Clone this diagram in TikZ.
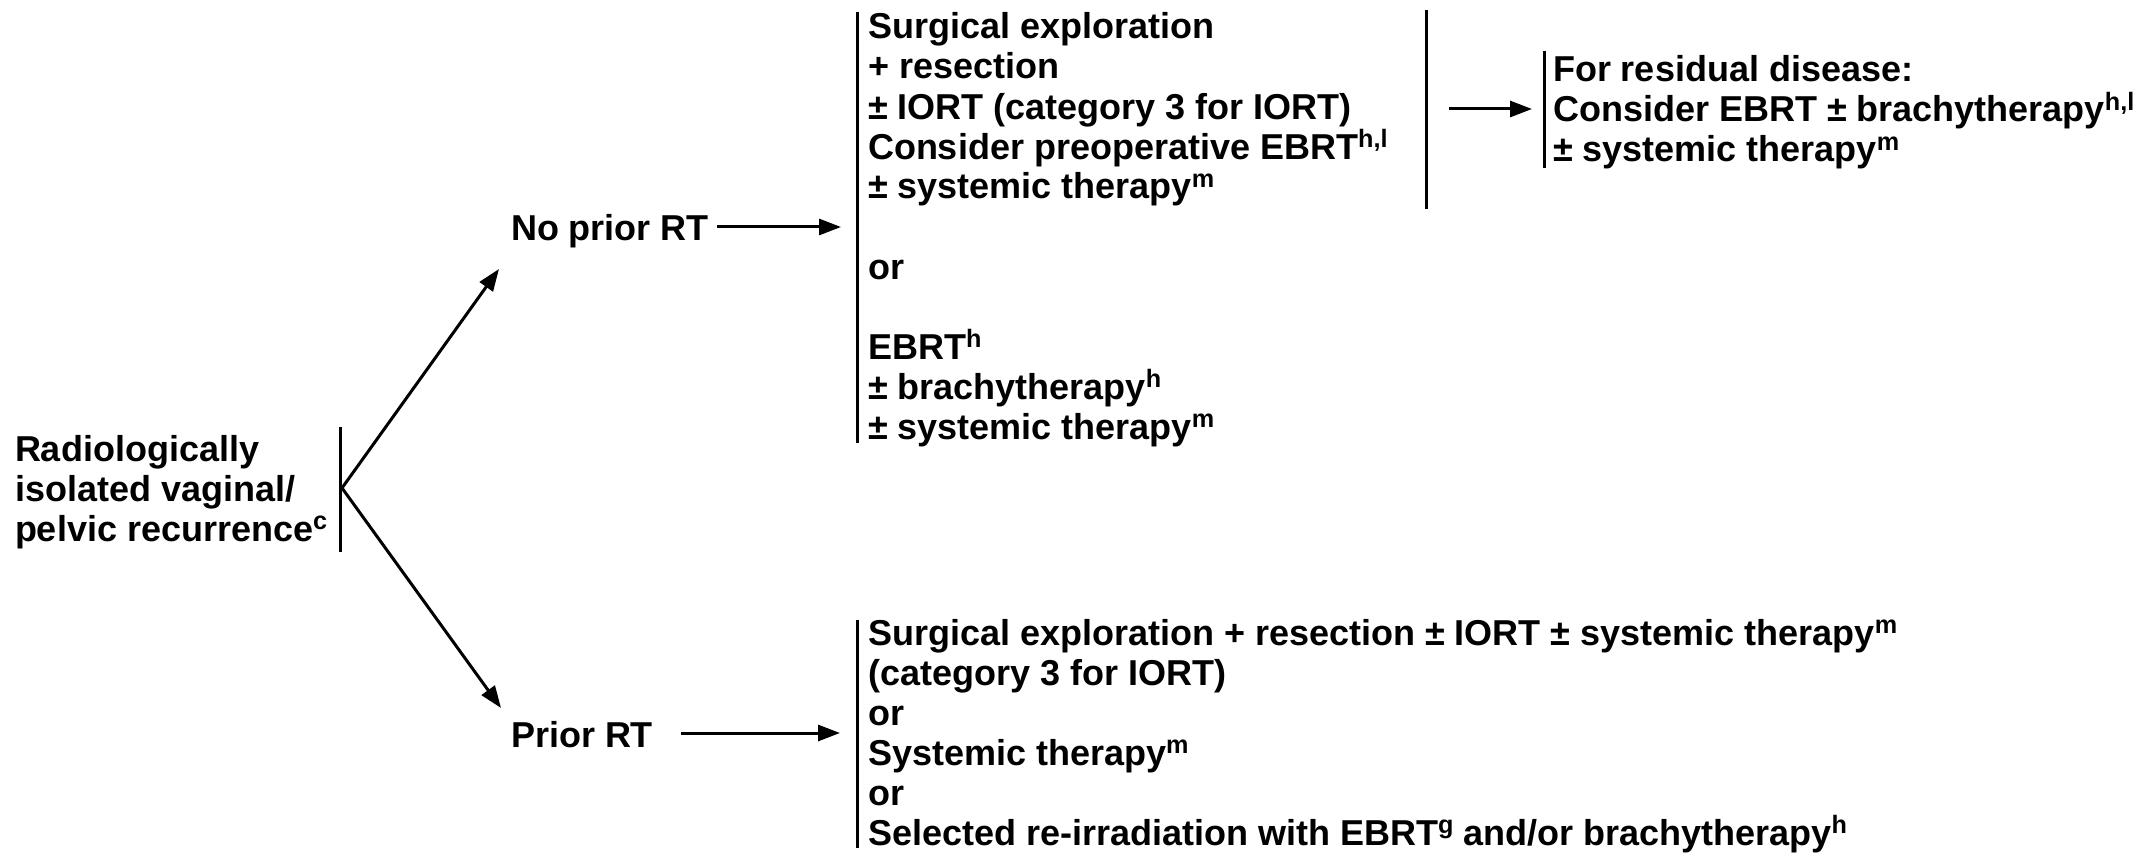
\documentclass[tikz,border=0pt]{standalone}
\usepackage{fontspec}
\setmainfont{Liberation Sans}
\usetikzlibrary{arrows.meta}
\newcommand\firststrut{\rule{0pt}{18pt}}
\newcommand\sps[1]{\raisebox{5.8pt}{\fontsize{12.6pt}{12.6pt}\selectfont #1}}
\newcommand\diagfont{\fontsize{18pt}{20pt}\selectfont\bfseries\setlength{\lineskiplimit}{-30pt}\setlength{\lineskip}{0pt}\relax}
\begin{document}
\begin{tikzpicture}[x=0.5pt,y=-0.5pt,
  txt/.style={inner sep=0pt, outer sep=0pt, align=left, anchor=north west,
    font=\diagfont},
  bar/.style={line width=1.5pt},
  arr/.style={line width=1.5pt, -{Triangle[length=11pt,width=8pt]}}]
\useasboundingbox (0,0) rectangle (2156,855);

% left node
\node[txt] (rec) at (15,425) {\firststrut Radiologically\\isolated vaginal/\\pelvic recurrence\sps{c}};
\draw[bar] (340,427) -- (340,552);
\coordinate (v) at (342,488);
\coordinate (t1) at (499,269);
\coordinate (t2) at (501,708);

% branch labels
\node[txt,anchor=base west] (nopri) at (511,241) {No prior RT};
\node[txt,anchor=base west] (pri) at (511,747) {Prior RT};
\draw[arr] (v) -- (t1);
\draw[arr] (v) -- (t2);

% top block
\node[txt] (top) at (868,3) {\firststrut Surgical exploration\\+ resection\\± IORT (category 3 for IORT)\\Consider preoperative EBRT\sps{h,l}\\± systemic therapy\sps{m}\\[20pt]or\\[20pt]EBRT\sps{h}\\± brachytherapy\sps{h}\\± systemic therapy\sps{m}};
\draw[bar] (857,12) -- (857,443);
\draw[bar] (1426,10) -- (1426,209);
\coordinate (in1) at (841,227);
\draw[arr] ([shift={(4pt,7pt)}]nopri.base east) -- (in1);

% residual block
\coordinate (r0) at (1449,109);
\coordinate (r1) at (1532,109);
\draw[arr] (r0) -- (r1);
\draw[bar] (1544,51) -- (1544,168);
\node[txt] (resid) at (1553,46) {\firststrut For residual disease:\\Consider EBRT ± brachytherapy\sps{h,l}\\± systemic therapy\sps{m}};

% bottom block
\draw[bar] (857,620) -- (857,848);
\node[txt] (bot) at (868,609) {\firststrut Surgical exploration + resection ± IORT ± systemic therapy\sps{m}\\(category 3 for IORT)\\or\\Systemic therapy\sps{m}\\or\\Selected re-irradiation with EBRT\sps{g} and/or brachytherapy\sps{h}};
\coordinate (in2) at (840,733);
\draw[arr] ([shift={(14pt,7pt)}]pri.base east) -- (in2);
\end{tikzpicture}
\end{document}
